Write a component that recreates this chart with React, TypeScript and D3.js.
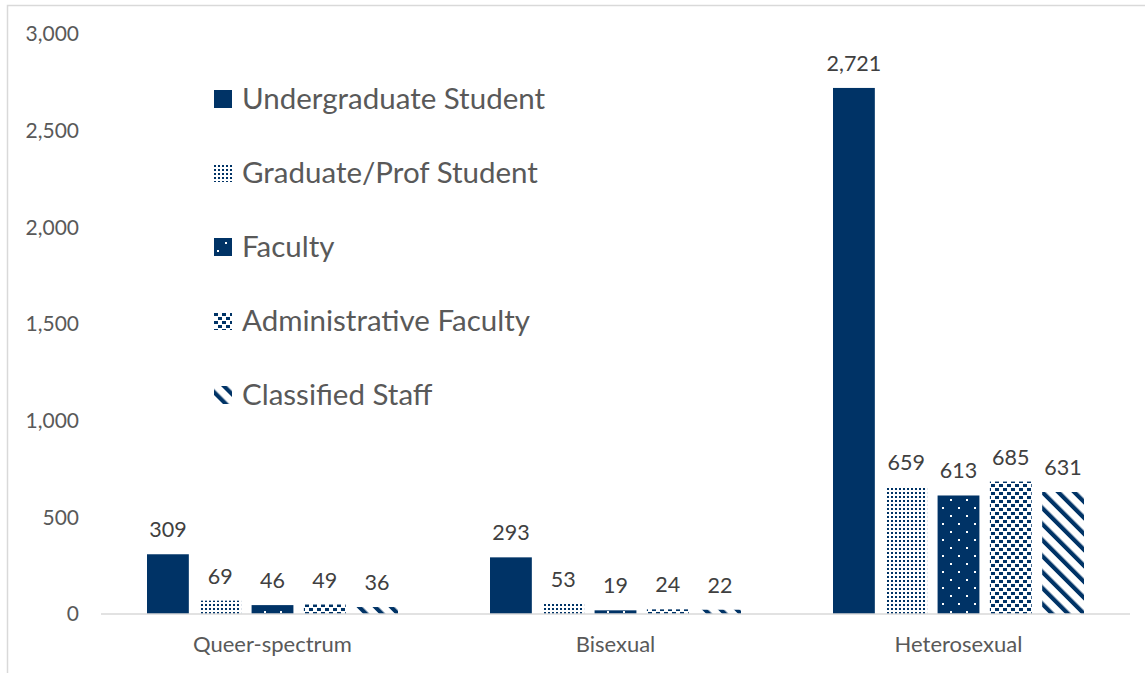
import { scaleBand, scaleLinear, format } from 'd3';

// bar chart: respondents by sexual identity and position
const categories = ['Queer-spectrum', 'Bisexual', 'Heterosexual'];
const seriesNames = [
  'Undergraduate Student',
  'Graduate/Prof Student',
  'Faculty',
  'Administrative Faculty',
  'Classified Staff',
];
const undergrad = [309, 293, 2721];
const gradProf = [69, 53, 659];
const faculty = [46, 19, 613];
const adminFaculty = [49, 24, 685];
const classified = [36, 22, 631];
const yTicks = [0, 500, 1000, 1500, 2000, 2500, 3000];

const seriesValues = [undergrad, gradProf, faculty, adminFaculty, classified];
const patternIds = ['p-solid', 'p-grad', 'p-fac', 'p-admin', 'p-class'];

const NAVY = '#003366';
const FONT = 'Lato, "Open Sans", sans-serif';

const width = 1145;
const height = 673;
const margin = { top: 34, right: 15, bottom: 59, left: 101 };

const App = () => {
  const x0 = scaleBand<string>()
    .domain(categories)
    .range([margin.left, width - margin.right]);
  const x1 = scaleBand<number>()
    .domain(seriesNames.map((_, i) => i))
    .range([46, x0.bandwidth() - 46])
    .paddingInner(0.2);
  const y = scaleLinear()
    .domain([0, 3000])
    .range([height - margin.bottom, margin.top]);
  const fmt = format(',');

  return (
    <svg
      width={width}
      height={height}
      style={{ position: 'absolute', left: 0, top: 0, background: '#fff' }}
    >
      <defs>
        <pattern id="p-solid" width={4} height={4} patternUnits="userSpaceOnUse">
          <rect width={4} height={4} fill={NAVY} />
        </pattern>
        <pattern id="p-grad" width={4} height={4} patternUnits="userSpaceOnUse">
          <rect width={4} height={4} fill="#fff" />
          <rect width={2} height={2} fill={NAVY} />
        </pattern>
        <pattern id="p-fac" width={16} height={16} patternUnits="userSpaceOnUse">
          <rect width={16} height={16} fill={NAVY} />
          <rect x={3} y={3} width={2} height={2} fill="#fff" />
          <rect x={11} y={11} width={2} height={2} fill="#fff" />
        </pattern>
        <pattern id="p-admin" width={8} height={8} patternUnits="userSpaceOnUse">
          <rect width={8} height={8} fill="#fff" />
          <rect x={0} y={0} width={4} height={3} fill={NAVY} />
          <rect x={4} y={4} width={4} height={3} fill={NAVY} />
        </pattern>
        <pattern
          id="p-class"
          width={11.3}
          height={11.3}
          patternUnits="userSpaceOnUse"
          patternTransform="rotate(-45)"
        >
          <rect width={11.3} height={11.3} fill="#fff" />
          <rect width={4.2} height={11.3} fill={NAVY} />
        </pattern>
      </defs>

      {/* chart area border (bottom edge falls just outside the frame) */}
      <rect
        x={7.5}
        y={5.5}
        width={1150}
        height={670}
        fill="#fff"
        stroke="#d9d9d9"
        strokeWidth={1.5}
      />

      {/* y axis labels */}
      <g fontFamily={FONT} fontSize={21} fill="#595959" textAnchor="end">
        {yTicks.map((t) => (
          <text key={t} x={79} y={y(t)} dy="0.35em">
            {fmt(t)}
          </text>
        ))}
      </g>

      {/* bars */}
      {categories.map((cat, ci) => (
        <g key={cat} transform={`translate(${x0(cat)},0)`}>
          {seriesValues.map((vals, si) => (
            <g key={si}>
              <rect
                x={x1(si)}
                y={y(vals[ci])}
                width={x1.bandwidth()}
                height={y(0) - y(vals[ci])}
                fill={`url(#${patternIds[si]})`}
              />
              <text
                x={(x1(si) as number) + x1.bandwidth() / 2}
                y={y(vals[ci]) - 17}
                textAnchor="middle"
                fontFamily={FONT}
                fontSize={21.5}
                fill="#404040"
              >
                {fmt(vals[ci])}
              </text>
            </g>
          ))}
        </g>
      ))}

      {/* x axis */}
      <line
        x1={margin.left}
        x2={width - margin.right}
        y1={y(0)}
        y2={y(0)}
        stroke="#d9d9d9"
        strokeWidth={1.5}
      />
      <g fontFamily={FONT} fontSize={22} fill="#595959" textAnchor="middle">
        {categories.map((cat) => (
          <text key={cat} x={(x0(cat) as number) + x0.bandwidth() / 2} y={652}>
            {cat}
          </text>
        ))}
      </g>

      {/* legend */}
      <g fontFamily={FONT} fontSize={29.5} fill="#595959">
        {seriesNames.map((name, i) => (
          <g key={name} transform={`translate(214,${99 + i * 74})`}>
            <rect x={0} y={-9} width={18} height={18} fill={`url(#${patternIds[i]})`} />
            <text x={28} y={0} dy="0.35em">
              {name}
            </text>
          </g>
        ))}
      </g>
    </svg>
  );
};

export default App;
